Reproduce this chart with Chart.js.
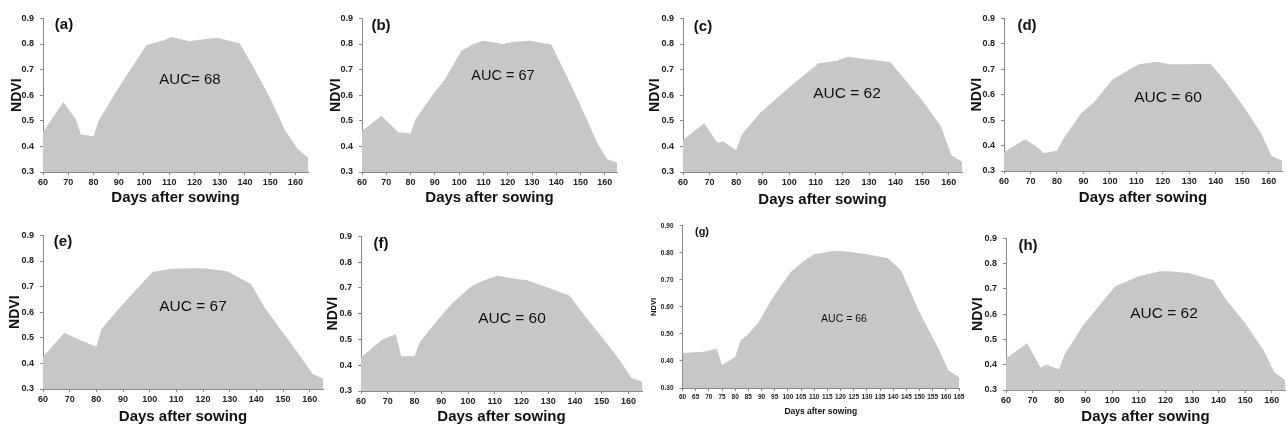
<!DOCTYPE html>
<html>
<head>
<meta charset="utf-8">
<script src="https://cdn.jsdelivr.net/npm/chart.js@4.4.1/dist/chart.umd.min.js"></script>
<style>
    html, body { margin: 0; padding: 0; background: #fff; }
    #wrap { position: relative; width: 1287px; height: 431px; overflow: hidden; }
    .box { position: absolute; }
    .lbl { position: absolute; transform: translate(-50%, -50%); font-family: "Liberation Sans", Arial, sans-serif; color: #111; white-space: nowrap; line-height: 1; }
</style>
</head>
<body>
<div id="wrap"></div>
<script>
// NDVI vs days after sowing, one pair of arrays per panel
const daysA = [60, 68, 73, 75, 80, 82, 89, 101, 108, 111, 118, 122, 129, 138, 143, 150, 156, 161, 165];
const ndviA = [0.455, 0.573, 0.506, 0.446, 0.44, 0.50, 0.614, 0.796, 0.815, 0.827, 0.811, 0.817, 0.824, 0.802, 0.716, 0.589, 0.461, 0.389, 0.357];

const daysB = [60, 68, 75, 80, 82, 89, 94, 101, 106, 110, 118, 122, 129, 138, 143, 150, 157, 161, 165];
const ndviB = [0.46, 0.52, 0.455, 0.45, 0.505, 0.60, 0.66, 0.775, 0.80, 0.813, 0.80, 0.808, 0.813, 0.797, 0.70, 0.56, 0.41, 0.35, 0.337];

const daysC = [60, 68, 73, 75, 80, 82, 89, 101, 111, 118, 122, 129, 138, 150, 157, 161, 165];
const ndviC = [0.425, 0.49, 0.413, 0.42, 0.385, 0.445, 0.53, 0.64, 0.725, 0.735, 0.75, 0.74, 0.73, 0.58, 0.48, 0.365, 0.34];

const daysD = [60, 68, 73, 75, 80, 82, 89, 94, 101, 106, 111, 118, 122, 129, 138, 143, 150, 157, 161, 165];
const ndviD = [0.375, 0.425, 0.39, 0.37, 0.38, 0.42, 0.525, 0.57, 0.66, 0.69, 0.72, 0.73, 0.72, 0.72, 0.722, 0.66, 0.56, 0.45, 0.36, 0.34];

const daysE = [60, 68, 73, 80, 82, 89, 101, 108, 118, 122, 129, 138, 143, 150, 157, 161, 165];
const ndviE = [0.425, 0.52, 0.495, 0.465, 0.535, 0.62, 0.757, 0.77, 0.772, 0.77, 0.76, 0.71, 0.62, 0.52, 0.42, 0.36, 0.34];

const daysF = [60, 68, 73, 75, 80, 82, 89, 94, 101, 106, 111, 118, 122, 129, 138, 143, 150, 157, 161, 165];
const ndviF = [0.43, 0.50, 0.52, 0.435, 0.435, 0.49, 0.58, 0.64, 0.705, 0.73, 0.747, 0.735, 0.73, 0.705, 0.67, 0.60, 0.51, 0.415, 0.35, 0.337];

const daysG = [60, 68, 73, 75, 80, 82, 85, 89, 94, 101, 106, 110, 118, 122, 129, 138, 143, 150, 157, 161, 165];
const ndviG = [0.43, 0.434, 0.445, 0.385, 0.415, 0.475, 0.50, 0.545, 0.63, 0.728, 0.77, 0.795, 0.808, 0.805, 0.797, 0.78, 0.735, 0.58, 0.45, 0.365, 0.34];

const daysH = [60, 68, 73, 75, 80, 82, 89, 101, 110, 118, 122, 129, 138, 143, 150, 157, 161, 165];
const ndviH = [0.425, 0.485, 0.388, 0.40, 0.382, 0.44, 0.555, 0.71, 0.75, 0.77, 0.77, 0.762, 0.735, 0.655, 0.565, 0.455, 0.37, 0.34];

const panelTags = ['(a)', '(b)', '(c)', '(d)', '(e)', '(f)', '(g)', '(h)'];
const aucTexts = ['AUC= 68', 'AUC = 67', 'AUC = 62', 'AUC = 60', 'AUC = 67', 'AUC = 60', 'AUC = 66', 'AUC = 62'];

const FONT = '"Liberation Sans", Arial, sans-serif';
const FILL = '#c7c7c7';
const AXIS = '#8a8a8a';

// plot area (L..R, T..B) and label positions for each panel
const panels = [
    { days: daysA, ndvi: ndviA, L: 43, R: 308, T: 15, B: 172, yW: 38, xH: 39, auc: [190, 78, 15], tag: [64, 23, 15] },
    { days: daysB, ndvi: ndviB, L: 362, R: 617, T: 15, B: 172, yW: 38, xH: 39, auc: [503, 75, 14.5], tag: [381, 24, 15] },
    { days: daysC, ndvi: ndviC, L: 683, R: 962, T: 15, B: 172, yW: 40, xH: 41, auc: [847, 93, 15.5], tag: [703, 25, 15] },
    { days: daysD, ndvi: ndviD, L: 1004, R: 1282, T: 15, B: 171, yW: 39, xH: 40, auc: [1168, 97, 15.5], tag: [1027, 24, 15] },
    { days: daysE, ndvi: ndviE, L: 43, R: 323, T: 232, B: 389, yW: 40, xH: 41, auc: [193, 306, 15.5], tag: [63, 240, 15] },
    { days: daysF, ndvi: ndviF, L: 361, R: 642, T: 233, B: 391, yW: 40, xH: 39, auc: [512, 318, 15.5], tag: [381, 242, 15] },
    { days: daysG, ndvi: ndviG, L: 682, R: 959, T: 224, B: 388, yW: 37.5, xH: 33, auc: [844, 318, 10.5], tag: [702, 231, 11], small: true },
    { days: daysH, ndvi: ndviH, L: 1006, R: 1285, T: 235, B: 390, yW: 40, xH: 40, auc: [1164, 313, 15.5], tag: [1028, 244, 15] }
];

const wrap = document.getElementById('wrap');
const padT = 8, padR = 8;

function addLabel(text, pos, bold) {
    const d = document.createElement('div');
    d.className = 'lbl';
    d.textContent = text;
    d.style.left = pos[0] + 'px';
    d.style.top = pos[1] + 'px';
    d.style.fontSize = pos[2] + 'px';
    if (bold) d.style.fontWeight = 'bold';
    wrap.appendChild(d);
}

panels.forEach((p, i) => {
    const w = p.R - p.L + p.yW + padR;
    const h = p.B - p.T + padT + p.xH;
    const box = document.createElement('div');
    box.className = 'box';
    box.style.left = (p.L - p.yW) + 'px';
    box.style.top = (p.T - padT) + 'px';
    const cv = document.createElement('canvas');
    cv.width = w;
    cv.height = h;
    box.appendChild(cv);
    wrap.appendChild(box);

    const tickSize = p.small ? 6.5 : 9;
    const xTitleSize = p.small ? 8.5 : 15;
    const yTitleSize = p.small ? 7.5 : 14;

    new Chart(cv, {
        type: 'line',
        data: {
            datasets: [{
                data: p.days.map((d, k) => ({ x: d, y: p.ndvi[k] })),
                backgroundColor: FILL,
                borderWidth: 0,
                pointRadius: 0,
                fill: 'start',
                tension: 0
            }]
        },
        options: {
            responsive: false,
            animation: false,
            events: [],
            layout: { padding: { top: padT, right: padR, left: 0, bottom: 0 } },
            plugins: { legend: { display: false }, tooltip: { enabled: false } },
            scales: {
                x: {
                    type: 'linear',
                    min: 60,
                    max: 165,
                    afterFit: s => { s.height = p.xH; },
                    grid: { drawOnChartArea: false, drawTicks: true, tickLength: 3, color: AXIS },
                    border: { display: true, color: AXIS, width: 1 },
                    ticks: {
                        stepSize: p.small ? 5 : 10,
                        includeBounds: false,
                        autoSkip: false,
                        maxRotation: 0,
                        minRotation: 0,
                        padding: 2,
                        color: '#222',
                        font: { family: FONT, size: tickSize, weight: 'bold' }
                    },
                    title: {
                        display: true,
                        text: 'Days after sowing',
                        color: '#111',
                        padding: { top: 4, bottom: 4 },
                        font: { family: FONT, size: xTitleSize, weight: 'bold' }
                    }
                },
                y: {
                    min: 0.3,
                    max: 0.9,
                    afterFit: s => { s.width = p.yW; },
                    grid: { drawOnChartArea: false, drawTicks: true, tickLength: 3, color: AXIS },
                    border: { display: true, color: AXIS, width: 1 },
                    ticks: {
                        stepSize: 0.1,
                        padding: 6,
                        color: '#222',
                        font: { family: FONT, size: tickSize, weight: 'bold' },
                        callback: v => v.toFixed(p.small ? 2 : 1)
                    },
                    title: {
                        display: true,
                        text: 'NDVI',
                        color: '#111',
                        padding: { top: 4, bottom: 4 },
                        font: { family: FONT, size: yTitleSize, weight: 'bold' }
                    }
                }
            }
        }
    });

    addLabel(aucTexts[i], p.auc, false);
    addLabel(panelTags[i], p.tag, true);
});
</script>
</body>
</html>
